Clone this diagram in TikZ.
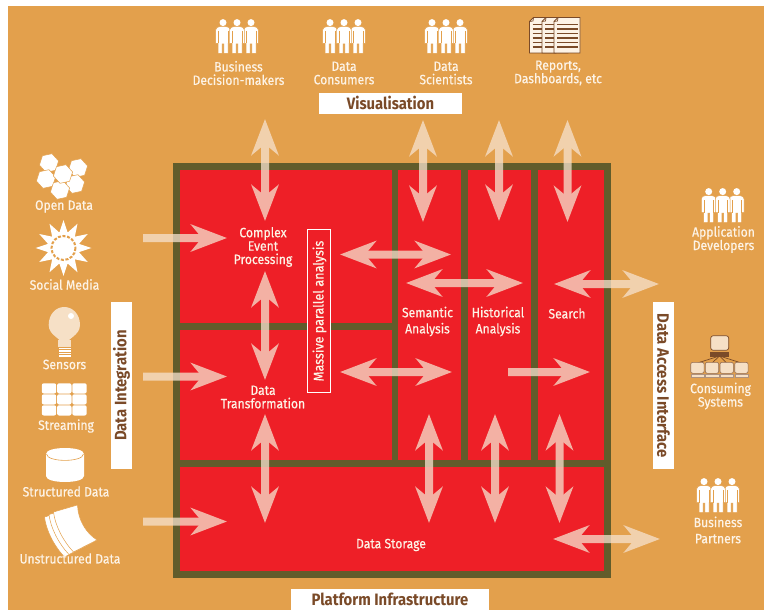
\documentclass[tikz,border=0pt]{standalone}
\usepackage{fontspec}
\setmainfont{Fira Sans}[FakeStretch=0.9]
\usetikzlibrary{arrows.meta,shapes.geometric}
\definecolor{bgorange}{HTML}{E3A04C}
\definecolor{olive}{HTML}{615C2B}
\definecolor{cellred}{HTML}{EE1F27}
\definecolor{brownink}{HTML}{7A4A28}
\definecolor{cream}{HTML}{FDF3E6}
\definecolor{flow}{HTML}{F6E2CE}
\definecolor{paleicon}{HTML}{F6E0C6}
\tikzset{
  wbox/.style={fill=white,draw=none,inner sep=0pt,outer sep=0pt},
  lab/.style={text=cream,align=center,inner sep=0pt,font=\fontsize{13.5}{13.4}\selectfont\addfontfeature{FakeBold=0.45}},
  labwide/.style={lab,font=\fontsize{13.5}{16.2}\selectfont\addfontfeature{FakeBold=0.45}},
  title/.style={text=brownink,inner sep=0pt,font=\fontsize{16.5}{17}\selectfont\bfseries},
  flowline/.style={draw=flow,line width=8pt},
  both/.style={flowline,{Stealth[length=36pt,width=27pt,inset=11pt]}-{Stealth[length=36pt,width=27pt,inset=11pt]}},
  one/.style={flowline,-{Stealth[length=36pt,width=27pt,inset=11pt]}},
  hexcell/.style={fill=white,draw=bgorange,line width=.5pt},
  peopleicon/.pic={
    \foreach \dx in {-14,14,0}{
      \begin{scope}[xshift=\dx pt]
      \fill[white,draw=bgorange,line width=.5pt]
        (-7.4,24.5) -- (-7.4,11) .. controls (-7.4,8.6) and (-5.5,8) .. (-3,7.5) -- (3,7.5)
        .. controls (5.5,8) and (7.4,8.6) .. (7.4,11) -- (7.4,24.5) -- (5,24.5) -- (5,34.5)
        -- (.9,34.5) -- (.9,25) -- (-.9,25) -- (-.9,34.5) -- (-5,34.5) -- (-5,24.5) -- cycle;
      \fill[white] (0,3.6) circle (3.5);
      \draw[bgorange,line width=.6pt] (-4.9,12) -- (-4.9,24.5) (4.9,12) -- (4.9,24.5);
      \end{scope}
    }
  },
}
\newcommand{\hexat}[2]{\path[hexcell,shift={(#1,#2)},rotate=12] (0:9.8) -- (60:9.8) -- (120:9.8) -- (180:9.8) -- (240:9.8) -- (300:9.8) -- cycle;}
\begin{document}
\begin{tikzpicture}[x=1pt,y=-1pt]
\useasboundingbox (0,0) rectangle (764,610);
\fill[white] (0,0) rectangle (764,610);
\fill[bgorange] (8,6) rectangle (764,610);
% platform frame and cells
\fill[olive] (173,163) rectangle (611,578);
\fill[cellred] (180,170) rectangle (391.5,323);
\fill[cellred] (180,330) rectangle (391.5,459.5);
\fill[cellred] (398,170) rectangle (461,459.5);
\fill[cellred] (468,170) rectangle (531,459.5);
\fill[cellred] (538,170) rectangle (604,459.5);
\fill[cellred] (180,467) rectangle (604,571);
% end points of the flows
\foreach \n/\x/\y in {
 va/265/119,vb/265/221,vc/265/271,vd/265/380,ve/265/414,vf/265/523,
 vg/423/120,vh/423/222,vi/499/120,vj/499/221,vk/567.5/120,vl/567.5/222,
 vm/429/414,vn/429/523,vo/495/414,vp/495/523,vq/559.5/414,vr/559.5/523,
 ha/143/238,hb/227/238,hc/143/376.5,hd/227/376.5,he/143/521.5,hf/227/521.5,
 hg/340/254.5,hh/451/254.5,hi/340/372,hj/452/372,hk/406/283,hl/523/283,
 hm/554/284,hn/659/284,ho/508/372,hp/590/372,hq/553/539,hr/660/539}
 {\coordinate (\n) at (\x,\y);}
\begin{scope}[transparency group,opacity=.75]
\draw[both] (va) -- (vb);
\draw[both] (vc) -- (vd);
\draw[both] (ve) -- (vf);
\draw[both] (vg) -- (vh);
\draw[both] (vi) -- (vj);
\draw[both] (vk) -- (vl);
\draw[both] (vm) -- (vn);
\draw[both] (vo) -- (vp);
\draw[both] (vq) -- (vr);
\draw[one] (ha) -- (hb);
\draw[one] (hc) -- (hd);
\draw[one] (he) -- (hf);
\draw[both] (hg) -- (hh);
\draw[both] (hi) -- (hj);
\draw[both] (hk) -- (hl);
\draw[both] (hm) -- (hn);
\draw[one] (ho) -- (hp);
\draw[both] (hq) -- (hr);
\end{scope}
% massive parallel analysis
\node[draw=white,fill=cellred,line width=1pt,minimum width=23.5pt,minimum height=163pt,inner sep=0pt] (massivebox) at (319,311) {};
\node[lab,rotate=90,font=\fontsize{14}{14}\selectfont\addfontfeature{FakeBold=0.45}] (massive) at (319.5,311) {Massive parallel analysis};
% cell labels
\node[lab] (cep) at (263,247) {Complex\\Event\\Processing};
\node[lab] (dt) at (263,397) {Data\\Transformation};
\node[labwide] (sa) at (427.5,321.5) {Semantic\\Analysis};
\node[labwide] (hia) at (498,321.5) {Historical\\Analysis};
\node[lab] (se) at (567,313.5) {Search};
\node[lab] (ds) at (391,545) {Data Storage};
% band labels
\node[wbox,minimum width=143pt,minimum height=21pt] (visbox) at (390.5,103.5) {};
\node[title] (vis) at (390.5,103) {Visualisation};
\node[wbox,minimum width=198pt,minimum height=21pt] (platbox) at (390,599.5) {};
\node[title] (plat) at (390,599) {Platform Infrastructure};
\node[wbox,minimum width=21pt,minimum height=167pt] (intbox) at (121.5,385.5) {};
\node[title,rotate=90] (int) at (121.5,385.5) {Data Integration};
\node[wbox,minimum width=21pt,minimum height=167pt] (dacbox) at (663.5,385.5) {};
\node[title,rotate=-90] (dac) at (663.5,385.5) {Data Access Interface};
% top icons and labels
\pic at (237,19) {peopleicon};
\pic at (344,19) {peopleicon};
\pic at (446,19) {peopleicon};
\node[lab] (bdm) at (238.5,73) {Business\\Decision-makers};
\node[lab] (dc) at (344,73) {Data\\Consumers};
\node[lab] (dsc) at (446,73) {Data\\Scientists};
\node[lab] (rep) at (558,73) {Reports,\\Dashboards, etc};
% reports icon
\foreach \l/\r in {529.5/556,542/568,554/580}{
  \fill[cream,draw=brownink,line width=.9pt] (\l+4,17.5) -- (\r,17.5) -- (\r,53) -- (\l,53) -- (\l,21.5) -- cycle;
  \draw[brownink,line width=.7pt] (\l,21.5) -- (\l+3.5,21) -- (\l+4,17.5);
  \foreach \yy in {24.5,29,33.5,38,42.5,47}{
    \draw[brownink,line width=1.6pt] (\l+3,\yy) -- (\r-2,\yy);
  }
}
% open data
\hexat{49}{163}\hexat{78}{168}\hexat{46}{179}\hexat{75}{184}\hexat{60}{190}\hexat{63}{174}
\node[lab] (od) at (64,206.5) {Open Data};
% social media
\node[star,star points=12,star point ratio=1.75,minimum size=56pt,inner sep=0pt,fill=white] (sunicon) at (63.5,248) {};
\draw[bgorange,line width=2pt,dash pattern=on 3pt off 1.6pt] (sunicon.center) circle (12);
\node[lab] (sm) at (64.5,284.5) {Social Media};
% sensors
\fill[paleicon] (64.3,347) .. controls (62,338) and (48.7,336) .. (48.7,325) .. controls (48.7,314) and (56,307) .. (64.3,307)
  .. controls (72.6,307) and (80,314) .. (80,325) .. controls (80,336) and (66.6,338) .. (64.3,347) -- cycle;
\fill[paleicon] (58,340) rectangle (71,347);
\foreach \yy in {347.5,350,352.5,355}{\fill[white] (58.5,\yy) rectangle (70.5,\yy+1.7);}
\fill[white] (71,316) circle (3);
\node[lab] (sen) at (64.5,364.5) {Sensors};
% streaming
\foreach \cx in {41.8,57.1,72.3}{\foreach \cy in {383.3,394.3,405.3}{
  \fill[white,rounded corners=2pt] (\cx,\cy) rectangle (\cx+14.4,\cy+10.2);
}}
\node[lab] (str) at (66,426) {Streaming};
% structured data
\fill[white] (46,454) -- (46,476) .. controls (46,484) and (84,484) .. (84,476) -- (84,454) .. controls (84,446) and (46,446) .. (46,454) -- cycle;
\draw[bgorange,line width=.6pt] (46.5,454) .. controls (47,462.5) and (83,462.5) .. (83.5,454);
\node[lab] (sd) at (66,491.5) {Structured Data};
% unstructured data
\foreach \dx/\dy in {-9/5,-4.5/2.5,0/0}{
  \begin{scope}[shift={(\dx,\dy)}]
  \fill[white,draw=bgorange,line width=.5pt] (77.5,505) -- (53.5,512) .. controls (55,525) and (63,541) .. (73.5,552) -- (97,540) .. controls (86,533) and (78,520) .. (77.5,505) -- cycle;
  \end{scope}
}
\node[lab] (ud) at (70,558.5) {Unstructured Data};
% right side
\pic at (722.7,188) {peopleicon};
\node[lab] (ad) at (723.5,239.5) {Application\\Developers};
\fill[paleicon,draw=brownink,line width=.7pt,rounded corners=2.5pt] (710.7,335.7) rectangle (728.7,350.3);
\fill[brownink] (710,351.7) rectangle (729,357.3);
\foreach \cx in {697.4,712,726.7,741.4}{
  \draw[brownink,line width=.7pt] (719.5,356) -- (\cx,363);
}
\foreach \cx in {697.4,712,726.7,741.4}{
  \fill[paleicon,draw=brownink!80,line width=.6pt,rounded corners=2pt] (\cx-6.7,362.3) rectangle (\cx+6.7,373.3);
  \fill[paleicon,draw=brownink!60,line width=.4pt] (\cx-6.7,374.5) rectangle (\cx+6.7,377.5);
}
\node[lab] (cs) at (720.5,396) {Consuming\\Systems};
\pic at (718,478) {peopleicon};
\node[labwide] (bp) at (718,530) {Business\\Partners};
\end{tikzpicture}
\end{document}
